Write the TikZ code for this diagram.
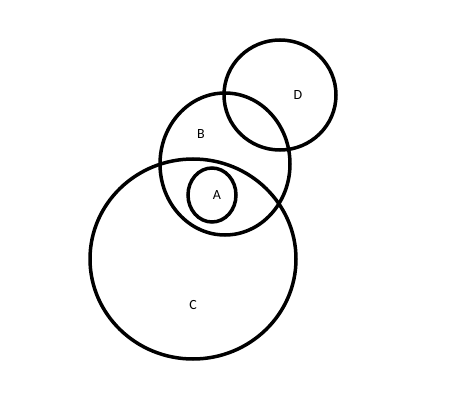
\documentclass[tikz,border=0pt]{standalone}
\usepackage{fontspec}
\setmainfont{Carlito}
\usetikzlibrary{calc}

\begin{document}
\begin{tikzpicture}[x=1pt,y=-1pt]
\useasboundingbox (0,0) rectangle (474,417); %画布大小
\tikzset{set/.style={line width=3.5pt},lbl/.style={font=\fontsize{14}{16}\selectfont}}
\draw[set] (280,95) ellipse [x radius=56,y radius=55]; %D
\draw[set] (225,164) ellipse [x radius=65,y radius=71]; %B
\draw[set] (212,195) ellipse [x radius=24,y radius=27]; %A
\draw[set] (193,259) ellipse [x radius=103,y radius=100]; %C
\node[lbl] (labD) at (298,95) {D};
\node[lbl] (labB) at (201,134) {B};
\node[lbl] (labA) at (217,195) {A};
\node[lbl] (labC) at (193,305) {C};
\end{tikzpicture}
\end{document}
